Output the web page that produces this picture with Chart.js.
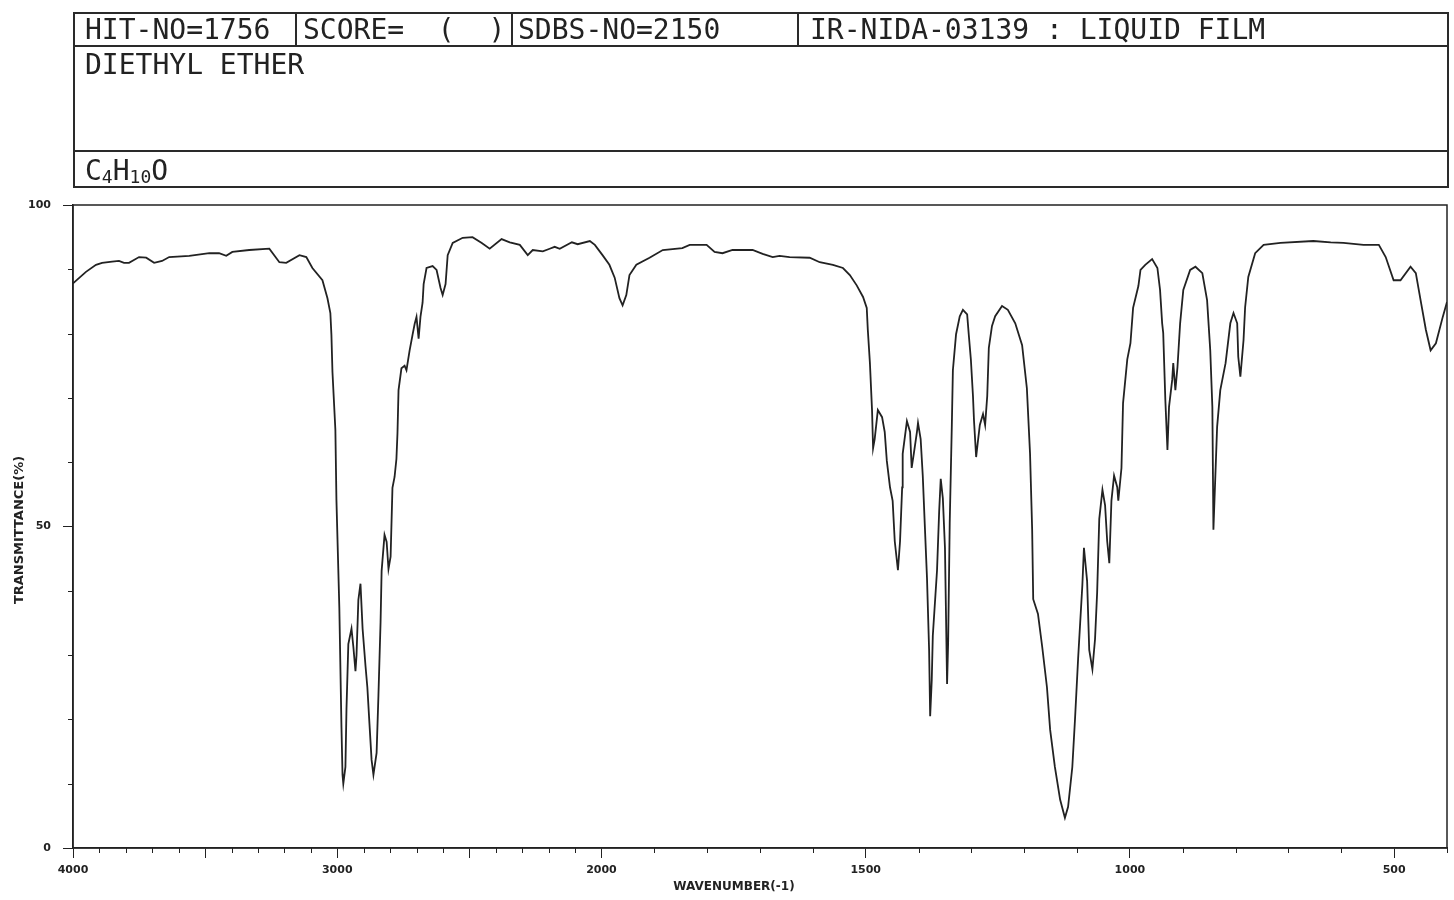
<!DOCTYPE html>
<html lang="en">
<head>
    <meta charset="UTF-8">
    <title>DIETHYL ETHER - IR spectrum</title>
    <script src="https://cdn.jsdelivr.net/npm/chart.js"></script>
    <style>
        html, body { margin: 0; padding: 0; background: #fff; }
        body { width: 1454px; height: 900px; position: relative; overflow: hidden; }
        #irChart { position: absolute; left: 0; top: 0; }
        .box { position: absolute; border: 2px solid #2a2a2a; box-sizing: border-box; }
        .hline { position: absolute; height: 0; border-top: 2px solid #2a2a2a; }
        .vline { position: absolute; width: 0; border-left: 2px solid #2a2a2a; }
        .txt { position: absolute; font-family: "DejaVu Sans Mono", monospace; font-size: 28px;
               line-height: 28px; color: #222; white-space: pre; }
        .txt sub { font-size: 18px; line-height: 0; position: relative; top: 3px; vertical-align: baseline; }
    </style>
</head>
<body>
    <canvas id="irChart" width="1454" height="900"></canvas>

    <!-- kopfzeile -->
    <div class="box" style="left:73px; top:12px; width:1376px; height:176px;"></div>
    <div class="hline" style="left:73px; top:45px; width:1376px;"></div>
    <div class="hline" style="left:73px; top:150px; width:1376px;"></div>
    <div class="vline" style="left:295px; top:12px; height:34px;"></div>
    <div class="vline" style="left:511px; top:12px; height:34px;"></div>
    <div class="vline" style="left:797px; top:12px; height:34px;"></div>

    <div class="txt" style="left:85px; top:16px;">HIT-NO=1756</div>
    <div class="txt" style="left:303px; top:16px;">SCORE=  (  )</div>
    <div class="txt" style="left:518px; top:16px;">SDBS-NO=2150</div>
    <div class="txt" style="left:810px; top:16px;">IR-NIDA-03139 : LIQUID FILM</div>
    <div class="txt" style="left:85px; top:51px;">DIETHYL ETHER</div>
    <div class="txt" style="left:85px; top:157px;">C<sub>4</sub>H<sub>10</sub>O</div>

    <script>
        // Spektrum (Wellenzahl in cm-1, Transmission in %)
        const wavenumber = [
            4000, 3951, 3913, 3890, 3852, 3826, 3807, 3788, 3750, 3723, 3693, 3663, 3636, 3560, 3484, 3447,
            3420, 3397, 3333, 3257, 3219, 3193, 3143, 3117, 3094, 3056, 3037,
            3026, 3022, 3018, 3007, 3003, 2992, 2984, 2980, 2977, 2969, 2965, 2958, 2946, 2939, 2931, 2927,
            2920, 2912, 2904, 2893, 2886, 2878, 2870, 2863, 2851, 2844, 2836, 2832, 2821, 2813, 2806, 2798,
            2791, 2783, 2776, 2772, 2768, 2757, 2745, 2738, 2726, 2715, 2707, 2700, 2692, 2685, 2677, 2673,
            2662, 2639, 2624, 2609, 2601, 2590, 2582, 2563, 2525, 2488,
            2453, 2423, 2378, 2347, 2309, 2279, 2260, 2222, 2196, 2177, 2158, 2112, 2090, 2044, 2025,
            1998, 1985, 1975, 1966, 1960, 1953, 1947, 1934, 1909, 1884, 1847, 1833, 1801, 1786, 1771, 1752,
            1714, 1695, 1676, 1663, 1644, 1606, 1587, 1562, 1543, 1530, 1517, 1505, 1498,
            1496, 1492, 1488, 1486, 1483, 1477, 1469, 1464, 1460, 1454, 1449, 1445, 1439, 1435, 1431, 1430,
            1422, 1416, 1413, 1409, 1403, 1401, 1396, 1392, 1388, 1384, 1380, 1378, 1375, 1373, 1365, 1361,
            1358, 1354, 1350, 1346, 1344, 1341, 1337, 1335, 1329, 1322, 1316, 1308, 1305, 1301, 1297, 1295,
            1291, 1288, 1284, 1278, 1274, 1270, 1267, 1261, 1255, 1242, 1231, 1217, 1204, 1195, 1189, 1185,
            1183, 1174, 1166, 1157, 1151, 1142, 1132, 1123, 1117, 1109, 1104, 1098, 1090, 1087, 1081, 1077,
            1071, 1066, 1062, 1058, 1052, 1047, 1043, 1039, 1035, 1030, 1024, 1022, 1016, 1013, 1005, 999,
            994, 984, 980, 971, 958, 948, 943, 939, 937, 933, 929, 926, 920, 918, 914, 910,
            905, 899, 886, 876, 863, 854, 848, 844, 842, 835, 829, 819, 810, 804, 797, 795,
            791, 785, 782, 776, 763, 747, 715, 653, 620, 596, 558, 529, 516, 501, 488, 469,
            459, 450, 440, 431, 421, 408, 400
        ];
        const transmittance = [
            87.8, 89.6, 90.7, 91.0, 91.2, 91.3, 91.0, 91.0, 91.9, 91.8, 91.0, 91.3, 91.9, 92.1, 92.5, 92.5,
            92.1, 92.7, 93.0, 93.2, 91.1, 91.0, 92.2, 91.9, 90.2, 88.3, 85.5,
            83.2, 79.8, 74.0, 65.0, 54.1, 37.3, 18.8, 11.4, 10.0, 12.6, 21.6, 31.7, 34.1, 31.3, 27.5, 30.0,
            38.6, 41.1, 34.1, 28.3, 25.0, 19.3, 13.7, 11.4, 14.8, 23.8, 35.1, 43.1, 48.7, 47.6, 43.4, 45.3,
            56.0, 57.7, 60.5, 64.5, 71.2, 74.6, 75.0, 74.3, 77.4, 79.8, 81.5, 82.6, 79.2, 82.6, 84.8, 87.7,
            90.2, 90.5, 89.9, 87.1, 86.0, 87.7, 92.2, 94.1, 94.9, 95.0,
            94.1, 93.2, 94.7, 94.2, 93.8, 92.2, 93.0, 92.8, 93.2, 93.5, 93.2, 94.2, 93.9, 94.4, 93.8,
            92.2, 90.7, 88.7, 85.5, 84.4, 86.0, 89.1, 90.7, 91.8, 93.0, 93.3, 93.8, 93.8, 92.7, 92.5, 93.0,
            93.0, 92.4, 91.9, 92.1, 91.9, 91.8, 91.1, 90.7, 90.2, 89.1, 87.5, 85.7, 84.0,
            80.6, 75.4, 68.1, 62.2, 63.6, 68.1, 67.0, 64.7, 60.2, 56.1, 54.0, 47.7, 43.2, 47.7, 56.1, 61.3,
            66.4, 64.7, 59.1, 61.3, 64.7, 66.1, 63.6, 57.9, 49.9, 42.0, 30.8, 20.5, 26.1, 33.0, 43.2, 52.3,
            57.4, 54.4, 46.7, 25.5, 31.9, 50.5, 65.8, 74.3, 79.9, 82.7, 83.7, 83.0, 79.9, 76.0, 70.3, 66.4,
            60.8, 63.0, 65.8, 67.5, 65.8, 70.3, 77.8, 81.2, 82.7, 84.3, 83.7, 81.6, 78.2, 71.5, 61.3, 49.5,
            38.7, 36.4, 31.3, 25.0, 18.4, 12.6, 7.5, 4.7, 6.4, 12.6, 19.9, 29.5, 40.9, 46.7, 41.5, 30.8,
            27.8, 32.5, 39.8, 51.2, 55.7, 53.3, 47.7, 44.3, 54.0, 57.9, 56.1, 54.0, 59.1, 69.2, 76.0, 78.5,
            84.0, 87.4, 89.9, 90.7, 91.6, 90.2, 86.8, 81.6, 80.1, 69.7, 61.9, 68.6, 72.8, 75.4, 71.2, 74.8,
            81.6, 86.8, 89.9, 90.4, 89.4, 85.2, 77.4, 68.6, 49.5, 65.5, 71.2, 75.4, 81.6, 83.2, 81.6, 76.4,
            73.3, 79.0, 84.1, 88.8, 92.5, 93.8, 94.1, 94.4, 94.2, 94.1, 93.8, 93.8, 91.9, 88.3, 88.3, 90.4,
            89.4, 85.2, 80.6, 77.4, 78.5, 82.6, 84.9
        ];

        // Achsenbeschriftung
        const xMajorTicks = [4000, 3500, 3000, 2500, 2000, 1500, 1000, 500];
        const xTickLabels = [4000, 3000, 2000, 1500, 1000, 500];
        const yTickLabels = [0, 50, 100];
        const xTitle = 'WAVENUMBER(-1)';
        const yTitle = 'TRANSMITTANCE(%)';

        // x-Achse: 4000-2000 halber Massstab, 2000-400 voller Massstab
        function toUnits(v) {
            return v >= 2000 ? (4000 - v) / 2 : 1000 + (2000 - v);
        }
        class WavenumberScale extends Chart.LinearScale {
            buildTicks() {
                this.start = this.min;
                this.end = this.max;
                return xMajorTicks.map(v => ({ value: v }));
            }
            getPixelForValue(value) {
                return this.left + this.width * toUnits(value) / 2600;
            }
            getValueForPixel(pixel) {
                const u = (pixel - this.left) / this.width * 2600;
                return u <= 1000 ? 4000 - 2 * u : 2000 - (u - 1000);
            }
        }
        WavenumberScale.id = 'wavenumber';
        WavenumberScale.defaults = Chart.LinearScale.defaults;
        Chart.register(WavenumberScale);

        const ink = '#222';
        const axisFont = { family: 'DejaVu Sans', size: 11, weight: 'bold' };

        // Nebenstriche, Rahmen und Achsentitel
        const frameAndMinorTicks = {
            id: 'frameAndMinorTicks',
            afterDraw(chart) {
                const { ctx, chartArea: a, scales: { x, y } } = chart;
                ctx.save();
                ctx.strokeStyle = ink;
                ctx.lineWidth = 1;
                ctx.beginPath();
                for (let v = 3900; v >= 400; v -= 100) {
                    if (v % 500 === 0) continue;
                    const px = Math.round(x.getPixelForValue(v)) + 0.5;
                    ctx.moveTo(px, a.bottom);
                    ctx.lineTo(px, a.bottom + 5);
                }
                for (let v = 10; v < 100; v += 10) {
                    if (v % 50 === 0) continue;
                    const py = Math.round(y.getPixelForValue(v)) + 0.5;
                    ctx.moveTo(a.left - 5, py);
                    ctx.lineTo(a.left, py);
                }
                ctx.stroke();

                ctx.lineWidth = 1.5;
                ctx.strokeRect(a.left, a.top, a.right - a.left, a.bottom - a.top);

                ctx.fillStyle = ink;
                ctx.textAlign = 'center';
                ctx.textBaseline = 'middle';
                ctx.font = 'bold 12px "DejaVu Sans"';
                ctx.fillText(xTitle, 734, 887);
                ctx.translate(20, 530);
                ctx.rotate(-Math.PI / 2);
                ctx.font = 'bold 13px "DejaVu Sans"';
                ctx.fillText(yTitle, 0, 0);
                ctx.restore();
            }
        };

        const ctx = document.getElementById('irChart').getContext('2d');
        new Chart(ctx, {
            type: 'line',
            data: {
                datasets: [{
                    data: wavenumber.map((w, i) => ({ x: w, y: transmittance[i] })),
                    borderColor: ink,
                    borderWidth: 1.8,
                    pointRadius: 0,
                    tension: 0,
                    fill: false
                }]
            },
            options: {
                responsive: false,
                animation: false,
                devicePixelRatio: 1,
                layout: { padding: { top: 205, right: 7, left: 0, bottom: 0 } },
                plugins: { legend: { display: false }, tooltip: { enabled: false } },
                scales: {
                    x: {
                        type: 'wavenumber',
                        min: 400,
                        max: 4000,
                        afterFit: s => { s.height = 52; },
                        grid: { drawOnChartArea: false, tickLength: 10, color: ink, lineWidth: 1 },
                        border: { color: ink, width: 1.5 },
                        ticks: {
                            autoSkip: false,
                            maxRotation: 0,
                            padding: 6,
                            color: ink,
                            font: axisFont,
                            callback: v => xTickLabels.includes(v) ? String(v) : ''
                        }
                    },
                    y: {
                        type: 'linear',
                        min: 0,
                        max: 100,
                        afterFit: s => { s.width = 73; },
                        afterBuildTicks: s => { s.ticks = yTickLabels.map(v => ({ value: v })); },
                        grid: { drawOnChartArea: false, tickLength: 10, color: ink, lineWidth: 1 },
                        border: { color: ink, width: 1.5 },
                        ticks: { padding: 12, color: ink, font: axisFont }
                    }
                }
            },
            plugins: [frameAndMinorTicks]
        });
    </script>
</body>
</html>
